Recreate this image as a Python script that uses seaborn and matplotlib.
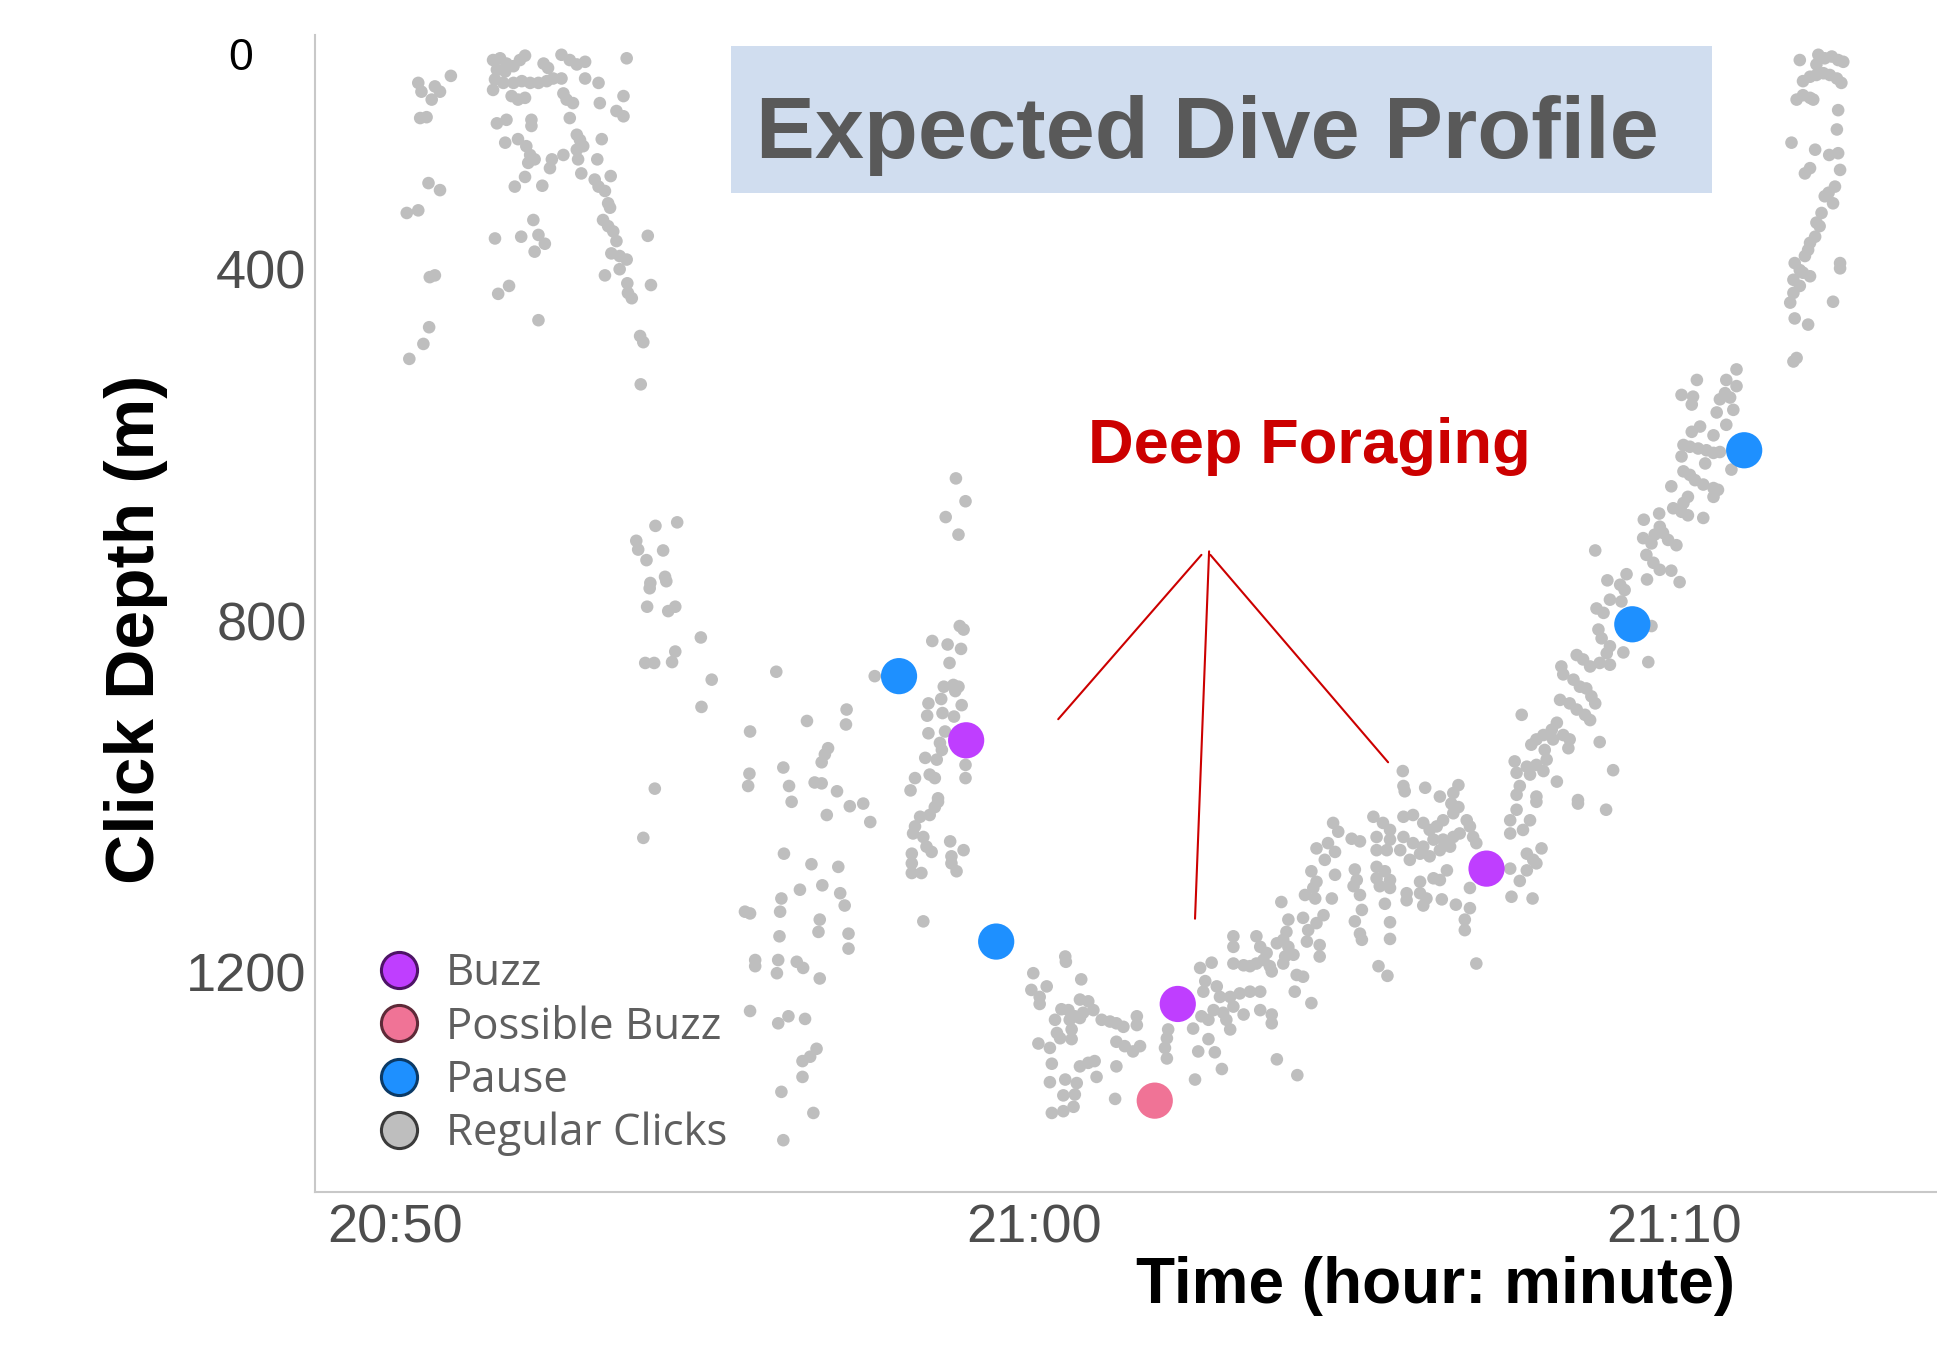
import matplotlib
matplotlib.use("Agg")
import matplotlib.pyplot as plt
from matplotlib.lines import Line2D
from matplotlib.patches import Rectangle
import matplotlib.transforms as mtransforms
import seaborn as sns
import pandas as pd

# ---------------- data (time = minutes after 20:00, depth in m) ----------------
clicks_surface_descent = [
    (50.36,188),(50.41,198),(50.57,207),(50.62,192),(50.70,198),(50.87,180),(50.39,228),(50.49,227),
    (50.52,302),(50.70,310),(50.18,336),(50.36,333),(50.54,409),(50.62,407),(50.53,466),(50.44,485),(50.22,502),
    (51.53,162),(51.64,160),(51.74,166),(51.85,169),(51.95,162),(52.03,157),(51.59,173),(51.72,175),
    (51.56,184),(51.69,188),(51.85,188),(51.98,186),(52.11,188),(52.24,188),(52.37,186),(52.47,183),
    (52.60,183),(51.53,196),(51.82,203),(51.92,207),(52.03,205),(52.32,166),(52.39,171),(52.60,156),
    (52.73,162),(52.84,167),(52.97,164),(52.97,183),(53.18,188),(53.62,160),(52.63,200),(52.68,207),(52.78,211),
    (51.59,234),(51.74,230),(52.13,230),(52.13,237),(51.72,256),(51.92,252),(52.05,260),(52.11,270),
    (52.08,279),(52.18,275),(52.45,275),(52.63,270),(52.42,285),(51.87,306),(52.03,295),(52.30,305),
    (52.73,228),(52.84,247),(52.89,253),(52.94,260),(52.84,264),(52.86,275),(52.91,291),(53.16,275),
    (53.23,252),(53.20,211),(53.57,203),(53.46,220),(53.57,226),(53.12,298),(53.18,306),(53.28,311),
    (53.37,294),(53.33,325),(53.36,330),(53.25,344),(53.33,351),(53.41,357),(53.46,368),(53.38,382),
    (53.51,385),(53.62,389),(53.51,400),(53.28,407),(53.63,416),(53.64,427),(53.70,433),(54.00,418),
    (53.95,362),(52.16,344),(51.56,365),(51.97,363),(52.24,361),(52.34,371),(52.18,380),(51.61,428),
    (51.78,419),(52.24,458),(53.83,476),(53.88,483),(53.84,531),
]
clicks_mid_descent = [
    (54.07,692),(54.41,688),(53.77,709),(53.80,719),(53.93,731),(54.19,720),(53.99,757),(53.98,763),
    (54.22,750),(54.24,755),(53.94,784),(54.27,789),(54.38,784),(54.78,819),(54.38,835),(53.91,848),
    (54.05,848),(54.33,847),(54.95,867),(54.79,898),(55.96,858),(57.50,863),(55.55,926),(56.44,914),
    (57.06,901),(57.05,918),(56.77,945),(56.72,952),(56.67,961),(56.07,967),(55.54,974),(55.52,988),
    (56.16,988),(56.56,984),(56.67,985),(56.91,994),(54.06,991),
    (53.88,1047),(56.08,1065),(56.51,1077),(56.93,1080),(56.33,1106),(56.68,1101),(56.96,1110),(57.03,1124),
    (56.04,1116),(56.02,1131),(55.55,1133),(55.47,1131),(56.64,1140),(56.62,1154),(57.09,1156),(57.09,1173),
    (56.01,1159),(55.63,1186),(55.63,1193),(55.99,1186),(55.97,1201),(56.28,1188),(56.38,1195),(56.64,1207),
    (55.55,1244),(55.99,1258),(56.15,1250),(56.41,1253),(56.59,1287),(56.49,1296),(56.37,1301),(56.37,1319),
    (56.04,1336),(56.54,1360),(56.07,1391),(56.20,1006),(56.75,1021),(57.11,1011),(57.32,1008),(57.43,1029),
]
clicks_late_descent = [
    (58.77,638),(58.92,664),(58.61,682),(58.81,702),(58.83,806),(58.89,810),(58.40,823),(58.64,827),
    (58.85,832),(58.67,848),(58.58,875),(58.73,873),(58.81,875),(58.76,880),(58.34,894),(58.54,889),
    (58.86,896),(58.32,908),(58.56,905),(58.74,909),(58.34,928),(58.60,926),(58.52,939),(58.55,947),
    (58.29,956),(58.47,958),(58.92,964),(58.36,975),(58.44,979),(58.13,979),(58.06,993),(58.92,979),(58.49,1002),
    (58.44,1012),(58.49,1006),(58.36,1021),(58.21,1023),(58.13,1034),(58.10,1042),(58.26,1046),(58.31,1057),
    (58.39,1063),(58.08,1065),(58.08,1076),(58.08,1087),(58.23,1087),(58.68,1051),(58.89,1061),(58.70,1068),
    (58.70,1076),(58.78,1085),(58.26,1142),
]
clicks_bottom = [
    (60.48,1182),(60.49,1188),(59.98,1201),(59.95,1220),(60.08,1228),(60.19,1216),(60.08,1236),(60.73,1208),
    (60.71,1231),(60.84,1233),(60.42,1242),(60.53,1243),(60.63,1250),(60.76,1246),(60.92,1243),(60.32,1254),
    (60.55,1254),(60.71,1252),(61.05,1254),(61.18,1256),(61.28,1258),(61.39,1262),(61.60,1250),(61.60,1260),
    (60.58,1265),(60.35,1269),(60.40,1275),(60.58,1276),(60.06,1281),(60.24,1286),(61.28,1279),(61.41,1284),
    (61.54,1290),(61.65,1284),(60.27,1304),(60.71,1307),(60.84,1303),(60.94,1301),(61.28,1307),(60.97,1319),
    (60.24,1325),(60.48,1322),(60.66,1326),(60.45,1340),(60.63,1339),(60.61,1353),(60.45,1358),(60.27,1360),
    (61.26,1344),(62.09,1265),(62.07,1275),(62.04,1286),(62.07,1298),
    (62.59,1195),(62.77,1189),(62.67,1210),(62.64,1222),(62.85,1216),(62.90,1228),(63.06,1228),(63.21,1224),
    (63.37,1222),(63.53,1222),(62.80,1243),(62.95,1246),(63.11,1239),(63.00,1254),(63.06,1265),(62.48,1264),
    (62.61,1250),(62.72,1254),(62.72,1276),(62.56,1290),(62.82,1291),(62.93,1310),(62.51,1322),(63.27,1248),
    (63.53,1243),(63.71,1248),(63.71,1258),(63.79,1299),(64.11,1317),(64.33,1235),(64.10,1203),(64.20,1205),
    (64.07,1222),(63.11,1159),(63.11,1171),(63.47,1159),(63.53,1171),(63.11,1190),(63.27,1192),(63.37,1193),
    (63.47,1190),(63.58,1186),(63.68,1193),(63.71,1199),(63.63,1178),(63.79,1167),(63.89,1163),(63.97,1171),
    (63.92,1182),(63.89,1190),(64.05,1180),(63.86,1120),(63.97,1140),(63.94,1154),(64.20,1138),(64.28,1152),
    (64.26,1165),(64.41,1144),(64.52,1135),(64.46,1169),(64.46,1182),(64.23,1112),(64.39,1116),(64.65,1116),
    (64.33,1085),(64.41,1097),(64.36,1104),(64.54,1072),(64.59,1053),(64.70,1063),(64.41,1059),(64.70,1089),
    (64.67,1030),(64.75,1040),(64.96,1048),(65.09,1051),(65.01,1083),(65.04,1095),(64.99,1102),(65.09,1112),
    (65.12,1129),(65.01,1142),(65.09,1156),(65.12,1163),
]
clicks_early_ascent = [
    (65.30,1023),(65.45,1030),(65.56,1038),(65.77,1023),(65.92,1021),(66.08,1030),(66.18,1038),(66.29,1034),
    (66.39,1027),(66.55,1019),(66.52,1008),(66.63,1012),(66.76,1027),(66.81,1034),(66.86,1046),(66.91,1053),
    (65.35,1046),(65.56,1049),(65.77,1046),(65.92,1053),(66.08,1057),(66.24,1049),(66.39,1049),(66.55,1046),
    (66.65,1042),(65.35,1061),(65.51,1061),(65.72,1061),(65.87,1072),(66.03,1065),(66.18,1068),(66.34,1061),
    (66.50,1057),(65.35,1080),(65.48,1085),(65.35,1093),(65.56,1095),(65.40,1102),(65.56,1104),(66.03,1097),
    (66.24,1093),(66.34,1095),(66.45,1084),(65.82,1110),(65.82,1118),(66.03,1110),(66.13,1116),(66.08,1124),
    (66.37,1117),(66.59,1123),(66.81,1127),(66.81,1104),(66.73,1140),(66.73,1152),(65.48,1122),(65.56,1143),
    (65.56,1162),(65.38,1193),(65.52,1204),(66.91,1190),(67.44,1082),(67.59,1096),(67.46,1114),(67.79,1116),
    (67.70,1065),(67.80,1072),(67.70,1084),(67.85,1076),(67.93,1059),(67.54,1015),(67.44,1027),(67.44,1042),
    (67.64,1038),(67.75,1027),(67.85,1006),(68.50,1008),(68.94,1015),
]
clicks_ascent = [
    (70.41,579),(70.28,585),(70.62,589),(70.82,577),(70.15,600),(70.25,602),(70.38,604),(70.51,606),
    (70.62,609),(70.72,608),(70.12,613),(70.49,621),(70.90,628),(70.15,630),(70.25,634),(70.33,640),
    (70.46,645),(70.62,649),(70.69,651),(70.62,659),(69.96,647),(70.22,659),(70.15,666),(69.99,672),
    (70.12,676),(70.22,680),(70.46,683),(69.77,678),(69.53,685),(69.78,693),(69.70,702),(69.83,700),
    (69.91,708),(70.04,714),(69.52,706),(69.65,712),(69.57,725),(69.68,734),(69.78,742),(69.96,743),
    (68.77,720),(69.58,753),(70.09,756),(69.26,747),(68.96,754),(69.16,759),(69.23,765),(69.00,776),
    (68.79,786),(68.90,791),(69.18,778),(69.65,806),(68.82,810),(68.87,820),(69.00,829),(68.95,837),
    (69.21,836),(68.48,839),(68.58,844),(68.69,852),(68.84,848),(69.00,850),(69.60,847),(68.24,852),
    (68.27,861),(68.43,867),(68.53,875),(68.63,877),(68.22,890),(68.37,894),(68.71,886),(68.77,894),
    (68.48,901),(68.61,907),(68.69,913),(67.62,907),(68.17,916),(68.09,924),(68.27,930),(67.96,930),
    (67.85,935),(68.11,935),(68.37,935),(67.77,941),(67.98,947),(68.35,945),(68.84,938),(69.05,970),
    (67.51,960),(67.70,966),(67.85,964),(68.01,958),(67.54,973),(67.75,975),(67.96,971),(68.17,983),
    (67.59,988),(67.54,998),(67.85,1000),(68.50,1004),(65.76,971),(65.77,988),(65.79,994),(66.11,990),
    (66.34,1000),(66.63,987),(66.55,996),
]
clicks_surface_ascent = [
    (71.97,162),(72.26,156),(72.36,160),(72.47,158),(72.57,162),(72.65,164),(72.23,167),(72.02,186),
    (72.13,181),(72.23,179),(72.34,177),(72.44,179),(72.55,183),(72.62,188),(71.92,207),(72.02,202),
    (72.13,205),(72.18,207),(72.57,219),(72.55,241),(71.84,256),(72.21,264),(72.43,270),(72.57,268),
    (72.13,285),(72.05,291),(72.60,287),(72.52,306),(72.42,313),(72.36,317),(72.49,325),(72.31,336),
    (72.23,347),(72.28,351),(72.21,363),(72.13,370),(72.10,378),(72.05,385),(71.89,393),(72.60,393),
    (72.60,399),(71.97,401),(72.02,404),(72.13,408),(71.87,412),(71.97,419),(71.87,427),(71.82,438),
    (72.49,437),(71.89,456),(72.10,463),(71.87,505),(71.92,501),
    (70.36,526),(70.12,543),(70.30,545),(70.82,526),(70.98,514),(70.98,533),(70.80,541),(70.72,548),
    (70.88,546),(70.93,560),(70.67,563),(70.28,554),
]
buzz = [(58.93,936),(62.24,1236),(67.07,1082)]
possible_buzz = [(61.88,1346)]
pause = [(57.88,863),(59.40,1165),(69.35,804),(71.10,606)]

categories = ["Buzz", "Possible Buzz", "Pause", "Regular Clicks"]
colors = {"Buzz": "#bf3eff", "Possible Buzz": "#f07396", "Pause": "#1e90ff", "Regular Clicks": "#bebebe"}
edge_colors = {"Buzz": "#4d1466", "Possible Buzz": "#5e2a38", "Pause": "#0b3a66", "Regular Clicks": "#3a3a3a"}

x_ticks = [50, 60, 70]
x_tick_labels = ["20:50", "21:00", "21:10"]
y_ticks = [400, 800, 1200]

# foraging annotation (apex and three ends, in data units)
pointer_start = [(62.61, 725), (62.73, 721), (62.75, 725)]
pointer_end = [(60.37, 912), (62.51, 1139), (65.53, 961)]

# ---------------- build table ----------------
rows = []
regular = (clicks_surface_descent + clicks_mid_descent + clicks_late_descent + clicks_bottom
           + clicks_early_ascent + clicks_ascent + clicks_surface_ascent)
for t, d in regular:
    rows.append((t, d, "Regular Clicks"))
for name, pts in [("Pause", pause), ("Buzz", buzz), ("Possible Buzz", possible_buzz)]:
    for t, d in pts:
        rows.append((t, d, name))
df = pd.DataFrame(rows, columns=["time", "depth", "type"])

# ---------------- plot ----------------
sns.set_style("white")
plt.rcParams["font.family"] = ["Liberation Sans", "DejaVu Sans"]

fig = plt.figure(figsize=(19.37, 13.5), dpi=100)
ax = fig.add_axes([0.1626, 0.117, 0.8374, 0.8574])

sns.scatterplot(data=df, x="time", y="depth", hue="type", palette=colors,
                size="type", sizes={"Regular Clicks": 82, "Pause": 680, "Buzz": 680, "Possible Buzz": 680},
                linewidth=0, legend=False, ax=ax, zorder=3)

ax.set_xlim(48.744, 74.116)
ax.set_ylim(1450, 133)
ax.set_xticks(x_ticks)
ax.set_xticklabels(x_tick_labels)
ax.set_yticks(y_ticks)
ax.set_yticklabels([str(v) for v in y_ticks])
ax.tick_params(axis="both", length=0, labelsize=39, labelcolor="#4d4d4d")
ax.tick_params(axis="x", pad=8.5)
ax.tick_params(axis="y", pad=6)

for s in ["top", "right"]:
    ax.spines[s].set_visible(False)
for s in ["left", "bottom"]:
    ax.spines[s].set_color("#c8c8c8")
    ax.spines[s].set_linewidth(1.5)

# extra "0" label at the surface
trans = mtransforms.blended_transform_factory(ax.transAxes, ax.transData)
ax.text(-0.0456, 160, "0", transform=trans, ha="center", va="center", fontsize=32, color="black")

ax.set_xlabel("Time (hour: minute)", fontsize=46, fontweight="bold", color="black")
ax.xaxis.set_label_coords(0.691, -0.0959)
ax.xaxis.label.set_verticalalignment("baseline")
ax.set_ylabel("Click Depth (m)", fontsize=50, fontweight="bold", color="black")
ax.yaxis.set_label_coords(-0.1104, 0.4864)
ax.yaxis.label.set_verticalalignment("center")
ax.yaxis.label.set_horizontalalignment("center")

# annotation lines
for (x0, y0), (x1, y1) in zip(pointer_start, pointer_end):
    ax.plot([x0, x1], [y0, y1], color="#cc0000", linewidth=1.5, zorder=4)

# title box
fig.patches.append(Rectangle((0.3774, 0.857), 0.5065, 0.1089, transform=fig.transFigure,
                             facecolor="#d0ddef", edgecolor="none", zorder=0))
fig.text(0.6234, 0.883, "Expected Dive Profile", ha="center", va="baseline",
         fontsize=63.5, fontweight="bold", color="#595959")
fig.text(0.676, 0.657, "Deep Foraging", ha="center", va="baseline",
         fontsize=45.5, fontweight="bold", color="#cc0000")

# legend
handles = [Line2D([], [], marker="o", linestyle="", markersize=26,
                  markerfacecolor=colors[c], markeredgecolor=edge_colors[c], markeredgewidth=2.2)
           for c in categories]
leg = ax.legend(handles, categories, loc="lower left", bbox_to_anchor=(0.0385, 0.031),
                frameon=False, borderpad=0, borderaxespad=0, handlelength=1.0,
                handletextpad=0.56, labelspacing=0.2,
                prop={"family": "Open Sans", "size": 31.5})
for t in leg.get_texts():
    t.set_color("#5f5f5f")

fig.savefig("out.png", dpi=100, facecolor="white")
